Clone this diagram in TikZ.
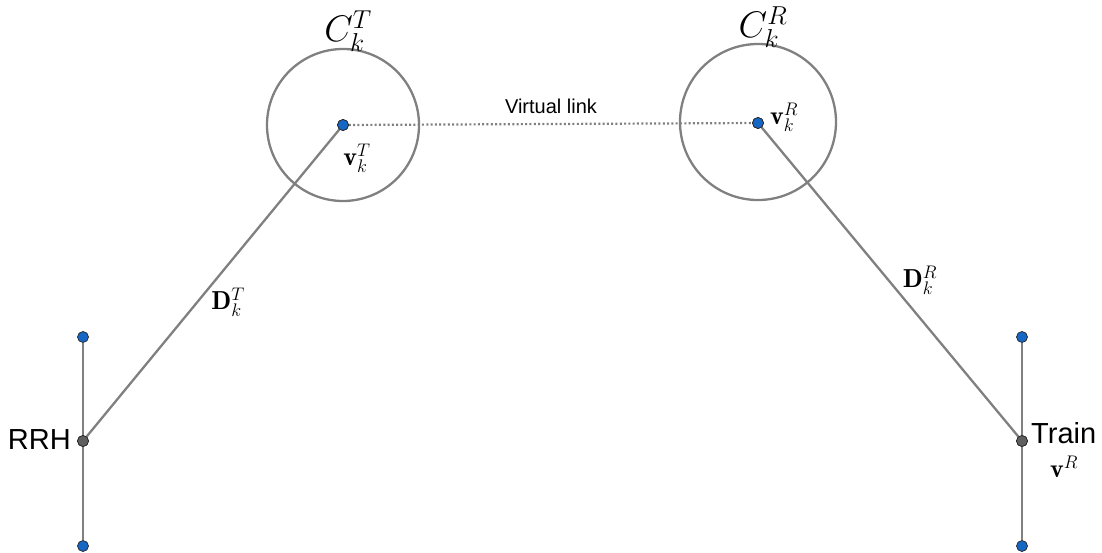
\RequirePackage{fix-cm}
\documentclass[tikz,border=0pt]{standalone}
\usepackage{fontspec}
\newfontfamily\labelsans{Liberation Sans}
\definecolor{linegray}{RGB}{128,128,128}
\definecolor{ptblue}{RGB}{22,102,196}
\definecolor{ptgray}{RGB}{95,95,95}
\tikzset{
  seg/.style={draw=linegray, line width=2.3pt},
  ring/.style={draw=linegray, line width=2.3pt},
  vlink/.style={draw=linegray, line width=2.2pt, dash pattern=on 2pt off 2.3pt},
  endpt/.style={circle, fill=ptblue, draw=black!85, line width=0.7pt, inner sep=0pt, minimum size=11pt},
  midpt/.style={circle, fill=ptgray, draw=black!85, line width=0.7pt, inner sep=0pt, minimum size=11pt},
  bigmath/.style={font=\fontsize{37}{40}\selectfont, inner sep=0pt},
  smallmath/.style={font=\fontsize{26}{28}\selectfont, inner sep=0pt},
  sanslabel/.style={font=\labelsans\fontsize{29}{32}\selectfont, inner sep=0pt},
}
\begin{document}
\begin{tikzpicture}[x=1pt,y=-1pt]
\useasboundingbox (0,0) rectangle (1102,552);

% coverage circles
\draw[ring] (343,125) circle (76);
\draw[ring] (758,122) circle (78);

% RRH and train tracks
\node[endpt] (rtop) at (83,337) {};
\node[midpt] (rrh) at (83,441) {};
\node[endpt] (rbot) at (83,546) {};
\node[endpt] (ttop) at (1022,337) {};
\node[midpt] (train) at (1022,441) {};
\node[endpt] (tbot) at (1022,546) {};

% virtual points
\node[endpt] (vt) at (343,125) {};
\node[endpt] (vr) at (758,123) {};

% connectors
\draw[seg] (rtop) -- (rrh) -- (rbot);
\draw[seg] (ttop) -- (train) -- (tbot);
\draw[seg] (rrh.center) -- (vt);
\draw[seg] (train.center) -- (vr);
\draw[vlink] (vt) -- (vr);

% redraw points on top of the lines
\node[midpt] at (rrh) {};
\node[midpt] at (train) {};
\node[endpt] at (vt) {};
\node[endpt] at (vr) {};

% labels
\node[bigmath] (ct) at (348,31) {$C_k^T$};
\node[bigmath] (cr) at (763,27) {$C_k^R$};
\node[smallmath] (lvt) at (357,158) {$\mathbf{v}_k^T$};
\node[smallmath] (lvr) at (784,117) {$\mathbf{v}_k^R$};
\node[smallmath] (ldt) at (228,302) {$\mathbf{D}_k^T$};
\node[smallmath] (ldr) at (920,280) {$\mathbf{D}_k^R$};
\node[smallmath] (lv) at (1064,467) {$\mathbf{v}^R$};
\node[font=\labelsans\fontsize{20}{24}\selectfont, inner sep=0pt] (vl) at (551,106) {Virtual link};
\node[sanslabel, anchor=east] (lrrh) at (71,440) {RRH};
\node[sanslabel, anchor=west] (ltrain) at (1031,433) {Train};
\end{tikzpicture}
\end{document}
